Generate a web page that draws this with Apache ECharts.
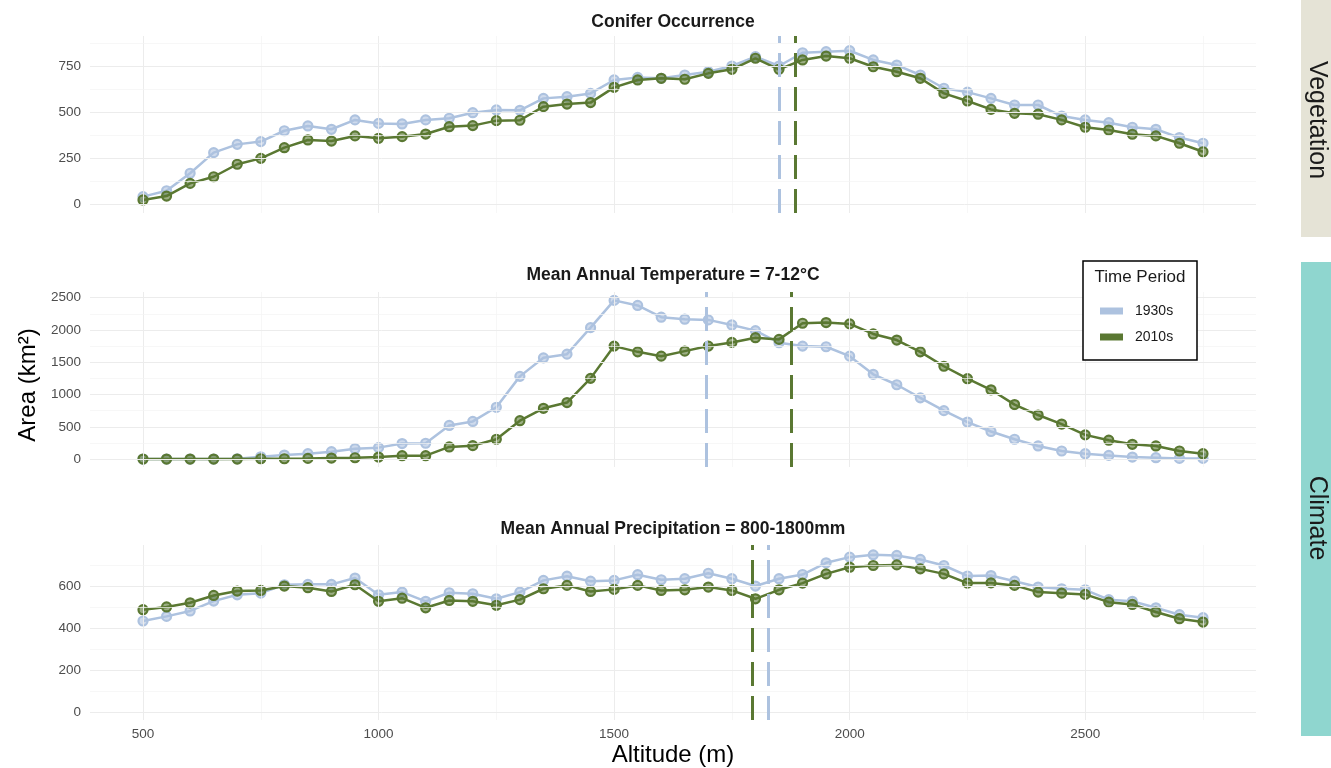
<!DOCTYPE html>
<html><head><meta charset="utf-8">
<script src="https://cdn.jsdelivr.net/npm/echarts@6/dist/echarts.min.js"></script>
<style>html,body{margin:0;padding:0;background:#fff}#c{width:1331px;height:768px}</style>
</head><body><div id="c"></div>
<script>
// ---------- DATA ----------
const altitudes = [500,550,600,650,700,750,800,850,900,950,1000,1050,1100,1150,1200,1250,1300,1350,1400,1450,1500,1550,1600,1650,1700,1750,1800,1850,1900,1950,2000,2050,2100,2150,2200,2250,2300,2350,2400,2450,2500,2550,2600,2650,2700,2750];
const periods = ['1930s', '2010s'];
const panelTitles = ['Conifer Occurrence', 'Mean Annual Temperature = 7-12°C', 'Mean Annual Precipitation = 800-1800mm'];
const stripLabels = ['Vegetation', 'Climate'];

const conifer1930s = [40,72,167,279,324,339,398,424,406,457,438,435,457,466,496,511,509,574,583,601,674,688,683,701,719,750,801,750,822,828,833,783,755,701,629,608,574,538,538,478,457,442,417,406,361,330];
const conifer2010s = [22,43,112,148,216,248,306,348,342,370,357,366,380,420,426,453,455,529,543,551,634,674,683,678,710,732,792,732,783,804,792,746,719,683,601,560,514,493,488,457,417,402,379,370,330,284];
const temp1930s = [0,0,0,0,5,36,62,83,115,161,177,240,245,521,583,802,1281,1568,1625,2036,2458,2380,2198,2167,2156,2078,1990,1802,1750,1740,1594,1313,1151,948,750,573,427,307,203,125,83,57,31,21,10,10];
const temp2010s = [0,0,0,0,0,5,5,10,16,20,31,52,52,188,208,307,594,786,875,1250,1750,1661,1594,1672,1750,1807,1880,1854,2104,2115,2094,1938,1844,1661,1438,1245,1073,844,682,542,375,292,229,203,125,83];
const precip1930s = [435,457,483,530,560,568,608,610,610,640,560,573,529,570,565,541,573,629,649,625,629,656,632,637,663,637,602,637,657,713,740,751,748,729,700,650,652,625,597,589,584,537,529,498,465,451];
const precip2010s = [489,502,522,557,578,581,602,594,576,608,529,544,498,533,529,510,537,589,605,576,586,605,581,584,597,581,541,584,616,660,692,700,703,684,660,616,617,605,573,568,562,525,514,478,446,430];

// dashed reference altitudes per panel
const refAlt1930s = [1850, 1695, 1827];
const refAlt2010s = [1884, 1876, 1793];

// tick labels
const xTicks = [500, 1000, 1500, 2000, 2500];
const xMinorTicks = [750, 1250, 1750, 2250, 2750];
const coniferTicks = [0, 250, 500, 750];
const coniferMinor = [125, 375, 625, 875];
const tempTicks = [0, 500, 1000, 1500, 2000, 2500];
const tempMinor = [250, 750, 1250, 1750, 2250];
const precipTicks = [0, 200, 400, 600];
const precipMinor = [100, 300, 500, 700];

// ---------- LAYOUT / STYLE ----------
const FONT = 'Liberation Sans, Arial, Helvetica, sans-serif';
const BLUE = '#adc2df';
const GREEN = '#5a7832';
const BLUE_FILL = 'rgba(173,194,223,0.6)';
const GREEN_FILL = 'rgba(90,120,50,0.6)';
const GRID_LEFT = 90, GRID_W = 1166;
const XMIN = 387.5, XMAX = 2862.5;
const plain = v => String(v);

const panels = [
  {top: 36, height: 177, ymin: -49, ymax: 913, titleY: 22, ticks: coniferTicks, minor: coniferMinor, a: conifer1930s, b: conifer2010s},
  {top: 292, height: 175, ymin: -123, ymax: 2588, titleY: 275, ticks: tempTicks, minor: tempMinor, a: temp1930s, b: temp2010s},
  {top: 545, height: 175, ymin: -38, ymax: 798, titleY: 529, ticks: precipTicks, minor: precipMinor, a: precip1930s, b: precip2010s}
];

const grid = [], xAxis = [], yAxis = [], series = [];
panels.forEach((p, i) => {
  grid.push({left: GRID_LEFT, width: GRID_W, top: p.top, height: p.height, containLabel: false});
  xAxis.push({
    type: 'value', gridIndex: i, min: XMIN, max: XMAX,
    axisLine: {show: false}, axisTick: {show: false}, splitLine: {show: false},
    axisLabel: i === 2 ? {show: true, customValues: xTicks, formatter: plain, color: '#4d4d4d', fontSize: 13.5, fontFamily: FONT, margin: 7} : {show: false}
  });
  yAxis.push({
    type: 'value', gridIndex: i, min: p.ymin, max: p.ymax,
    axisLine: {show: false}, axisTick: {show: false}, splitLine: {show: false},
    axisLabel: {show: true, customValues: p.ticks, formatter: plain, color: '#4d4d4d', fontSize: 13.5, fontFamily: FONT, margin: 9}
  });
  const major = {color: '#ececec', width: 1, type: 'solid'};
  const minor = {color: '#f4f4f4', width: 0.7, type: 'solid'};
  const gl = [];
  xTicks.forEach(v => gl.push({xAxis: v, lineStyle: major}));
  xMinorTicks.forEach(v => gl.push({xAxis: v, lineStyle: minor}));
  p.ticks.forEach(v => gl.push({yAxis: v, lineStyle: major}));
  p.minor.forEach(v => gl.push({yAxis: v, lineStyle: minor}));
  series.push({
    type: 'line', name: '_grid' + i, xAxisIndex: i, yAxisIndex: i, data: [], z: 1, silent: true,
    markLine: {silent: true, animation: false, symbol: ['none', 'none'], label: {show: false}, emphasis: {disabled: true}, data: gl}
  });
  const mk = (name, arr, col, fill, ref, z) => ({
    type: 'line', name: name, xAxisIndex: i, yAxisIndex: i, z: z,
    data: altitudes.map((a, k) => [a, arr[k]]),
    color: col,
    lineStyle: {color: col, width: 2.5},
    symbol: 'circle', symbolSize: 9,
    itemStyle: {color: fill, borderColor: col, borderWidth: 2.2},
    emphasis: {disabled: true},
    markLine: {silent: true, animation: false, symbol: ['none', 'none'], label: {show: false}, emphasis: {disabled: true},
      lineStyle: {color: col, width: 3, type: [24, 10]}, data: [{xAxis: ref}]}
  });
  series.push(mk(periods[0], p.a, BLUE, BLUE_FILL, refAlt1930s[i], 3));
  series.push(mk(periods[1], p.b, GREEN, GREEN_FILL, refAlt2010s[i], 4));
});

const graphic = [];
panels.forEach((p, i) => {
  graphic.push({type: 'text', x: GRID_LEFT + GRID_W / 2, y: p.titleY, z: 5,
    style: {text: panelTitles[i], font: 'bold 17.5px ' + FONT, fill: '#1a1a1a', align: 'center', verticalAlign: 'middle'}});
});
// axis titles
graphic.push({type: 'text', x: 28, y: 385, rotation: Math.PI / 2, z: 5,
  style: {text: 'Area (km²)', font: '24px ' + FONT, fill: '#000', align: 'center', verticalAlign: 'middle'}});
graphic.push({type: 'text', x: 673, y: 755, z: 5,
  style: {text: 'Altitude (m)', font: '24px ' + FONT, fill: '#000', align: 'center', verticalAlign: 'middle'}});
// strips
graphic.push({type: 'rect', shape: {x: 1301, y: 0, width: 30, height: 237}, style: {fill: '#e5e3d6'}, z: 2});
graphic.push({type: 'rect', shape: {x: 1301, y: 262, width: 30, height: 474}, style: {fill: '#8fd6cf'}, z: 2});
graphic.push({type: 'text', x: 1317, y: 120, rotation: -Math.PI / 2, z: 3,
  style: {text: stripLabels[0], font: '25px ' + FONT, fill: '#1a1a1a', align: 'center', verticalAlign: 'middle'}});
graphic.push({type: 'text', x: 1317, y: 518, rotation: -Math.PI / 2, z: 3,
  style: {text: stripLabels[1], font: '25px ' + FONT, fill: '#1a1a1a', align: 'center', verticalAlign: 'middle'}});
// legend box + title
graphic.push({type: 'rect', shape: {x: 1083, y: 261, width: 114, height: 99}, style: {fill: '#fff', stroke: '#000', lineWidth: 1.5}, z: 10});
graphic.push({type: 'text', x: 1140, y: 277, z: 11,
  style: {text: 'Time Period', font: '17px ' + FONT, fill: '#1a1a1a', align: 'center', verticalAlign: 'middle'}});

const chart = echarts.init(document.getElementById('c'), null, {renderer: 'canvas'});
chart.setOption({
  animation: false,
  backgroundColor: '#fff',
  grid, xAxis, yAxis, series, graphic,
  legend: {
    left: 1095, top: 299, orient: 'vertical', itemWidth: 23, itemHeight: 7, itemGap: 12,
    icon: 'rect', selectedMode: false, z: 20,
    textStyle: {fontSize: 14, color: '#1a1a1a', fontFamily: FONT, padding: [0, 0, 0, 7]},
    data: [
      {name: periods[0], itemStyle: {color: BLUE, borderWidth: 0}},
      {name: periods[1], itemStyle: {color: GREEN, borderWidth: 0}}
    ]
  }
});
</script></body></html>
